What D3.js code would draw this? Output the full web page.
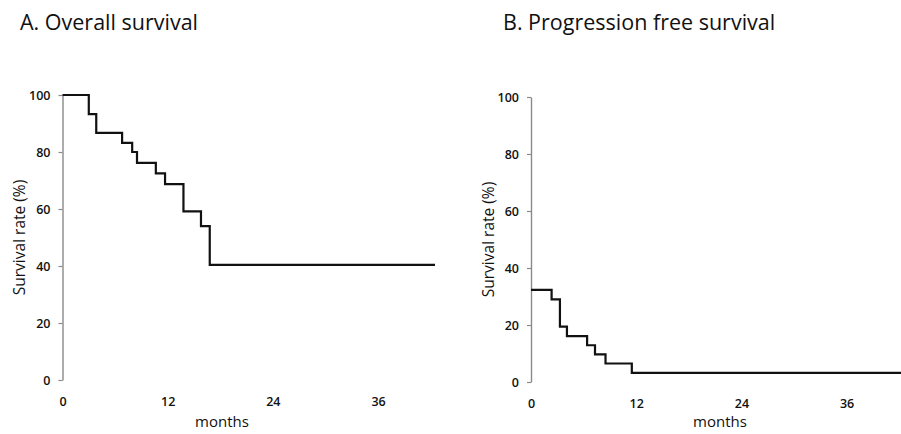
<!DOCTYPE html>
<html>
<head>
<meta charset="utf-8">
<script src="https://cdn.jsdelivr.net/npm/d3@7"></script>
<style>
  html, body { margin: 0; padding: 0; background: #fff; }
  svg { display: block; }
  text { font-family: "Open Sans", "DejaVu Sans", sans-serif; fill: #111; }
</style>
</head>
<body>
<svg id="chart" width="901" height="434"></svg>
<script>
// ---- data ----
const titles = ["A. Overall survival", "B. Progression free survival"];
const xTicks = [0, 12, 24, 36];
const yTicks = [0, 20, 40, 60, 80, 100];
const xLabel = "months";
const yLabel = "Survival rate (%)";

// Overall survival: step times (months) and survival (%) after each step
const osMonths   = [0, 3.0, 3.85, 6.8, 7.95, 8.5, 10.65, 11.7, 13.8, 15.8, 16.8, 42.5];
const osSurvival = [100, 93.3, 86.7, 83.2, 80.0, 76.2, 72.5, 68.7, 59.2, 54.0, 40.4, 40.4];

// Progression free survival
const pfsMonths   = [0, 2.35, 3.3, 4.1, 6.4, 7.3, 8.5, 11.5, 42.5];
const pfsSurvival = [32.3, 29.0, 19.4, 16.1, 12.9, 9.7, 6.5, 3.2, 3.2];

// ---- layout ----
const panels = [
  { title: titles[0], months: osMonths, surv: osSurvival,
    x0: 62.5, x1: 435, yTop: 95, yBot: 380, titleX: 20, ylabX: 18.5, xlabX: 222 },
  { title: titles[1], months: pfsMonths, surv: pfsSurvival,
    x0: 531, x1: 903.6, yTop: 97, yBot: 382, titleX: 503, ylabX: 488, xlabX: 720 }
];

const svg = d3.select("#chart");

panels.forEach(p => {
  const g = svg.append("g");
  const x = d3.scaleLinear().domain([0, 42.5]).range([p.x0, p.x1]);
  const y = d3.scaleLinear().domain([0, 100]).range([p.yBot, p.yTop]);

  // title
  g.append("text")
    .attr("x", p.titleX).attr("y", 30)
    .attr("font-size", 21.5)
    .text(p.title);

  // y axis
  const ya = g.append("g")
    .attr("transform", `translate(${p.x0},0)`)
    .call(d3.axisLeft(y).tickValues(yTicks).tickSize(4).tickSizeOuter(0).tickPadding(8));
  ya.select(".domain").attr("stroke", "#8a8a8a").attr("stroke-width", 1.4);
  ya.selectAll(".tick line").attr("stroke", "#8a8a8a").attr("stroke-width", 1.2);
  ya.selectAll(".tick text")
    .attr("font-family", "'Open Sans', sans-serif")
    .attr("font-size", 12.5).attr("font-weight", 600).attr("fill", "#111");

  // x axis (labels only)
  const xa = g.append("g")
    .attr("transform", `translate(0,${p.yBot})`)
    .call(d3.axisBottom(x).tickValues(xTicks).tickSize(0).tickPadding(17));
  xa.select(".domain").remove();
  xa.selectAll(".tick text")
    .attr("font-family", "'Open Sans', sans-serif")
    .attr("font-size", 12.5).attr("font-weight", 600).attr("fill", "#111");

  // axis labels
  g.append("text")
    .attr("x", p.xlabX).attr("y", 427)
    .attr("text-anchor", "middle")
    .attr("font-size", 15)
    .text(xLabel);

  g.append("text")
    .attr("transform", `translate(${p.ylabX + 6},${(p.yTop + p.yBot) / 2}) rotate(-90)`)
    .attr("text-anchor", "middle")
    .attr("font-size", 15.5)
    .text(yLabel);

  // survival curve
  const data = p.months.map((m, i) => [m, p.surv[i]]);
  const line = d3.line()
    .x(d => x(d[0])).y(d => y(d[1]))
    .curve(d3.curveStepAfter);
  g.append("path")
    .datum(data)
    .attr("d", line)
    .attr("fill", "none")
    .attr("stroke", "#111")
    .attr("stroke-width", 2.2)
    .attr("stroke-linejoin", "miter");
});
</script>
</body>
</html>
